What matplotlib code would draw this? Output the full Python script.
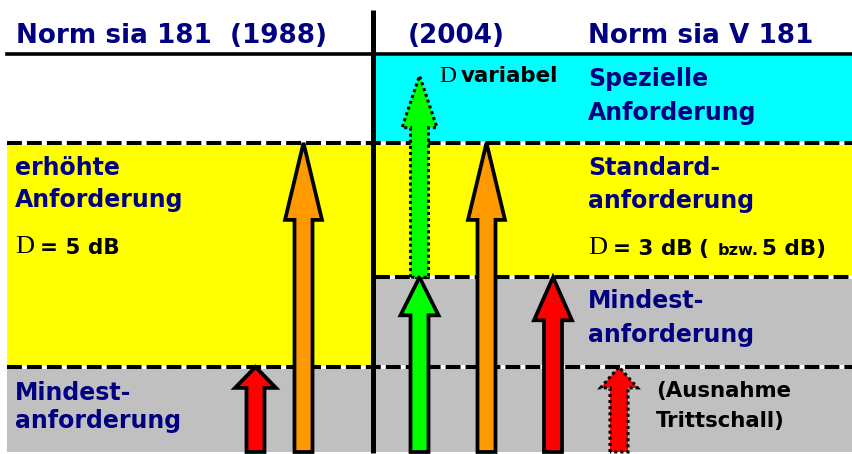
import matplotlib
matplotlib.use("Agg")
import matplotlib.pyplot as plt
from matplotlib.patches import Polygon

# ─── data: requirement levels in dB above the lowest level ───────────────────
LEVEL_BASE = 0.0
LEVEL_MIN_1988 = 1.9          # Mindestanforderung SIA 181 (1988)
LEVEL_MIN_2004 = 3.9          # Mindestanforderung SIA V 181 (2004), +2 dB
LEVEL_RAISED = 6.9            # erhöhte (+5 dB) / Standard (+3 dB)
LEVEL_TOP = 8.85
LEVEL_VARIABLE = 8.4          # spezielle Anforderung, variabel

# bands per norm: (lower, upper)
bands_1988 = [(LEVEL_BASE, LEVEL_MIN_1988), (LEVEL_MIN_1988, LEVEL_RAISED),
              (LEVEL_RAISED, LEVEL_TOP)]
bands_2004 = [(LEVEL_BASE, LEVEL_MIN_2004), (LEVEL_MIN_2004, LEVEL_RAISED),
              (LEVEL_RAISED, LEVEL_TOP)]

# arrows: start level, end level
arrow_from = [LEVEL_BASE, LEVEL_BASE, LEVEL_BASE, LEVEL_MIN_2004,
              LEVEL_BASE, LEVEL_BASE, LEVEL_BASE]
arrow_to = [LEVEL_MIN_1988, LEVEL_RAISED, LEVEL_MIN_2004, LEVEL_VARIABLE,
            LEVEL_RAISED, LEVEL_MIN_2004, LEVEL_MIN_1988]
arrow_dotted = [False, False, False, True, False, False, True]

# ─── layout / style ──────────────────────────────────────────────────────────
PX_PER_DB = 44.8
BASE_PX = 452
W, H = 852, 454

YELLOW, CYAN, GRAY = "#ffff00", "#00ffff", "#c0c0c0"
ORANGE, RED, GREEN = "#ff9900", "#ff0000", "#00ff00"
NAVY = "#000080"

band_cols_1988 = [GRAY, YELLOW, "white"]
band_cols_2004 = [GRAY, YELLOW, CYAN]

arrow_x = [255.5, 303.5, 419.5, 419.5, 486.5, 553, 619]
arrow_cols = [RED, ORANGE, GREEN, GREEN, ORANGE, RED, RED]
head_len_px = [21, 77, 38, 52, 77, 43, 21]
head_w_px = [41, 37, 38, 35, 37, 38, 37]
shaft_w_px = 18

SANS = "DejaVu Sans"
SERIF = "Liberation Serif"


def px2lvl(p):
    return (BASE_PX - p) / PX_PER_DB


def up_arrow(ax, x, y0, y1, head_len, head_w, color, dotted):
    hl = head_len / PX_PER_DB
    hw, sw = head_w / 2, shaft_w_px / 2
    verts = [(x - sw, y0), (x - sw, y1 - hl), (x - hw, y1 - hl), (x, y1),
             (x + hw, y1 - hl), (x + sw, y1 - hl), (x + sw, y0)]
    ls = (0, (1, 1)) if dotted else "-"
    ax.add_patch(Polygon(verts, closed=True, facecolor=color, edgecolor="k",
                         lw=2.2 if dotted else 2.7, ls=ls, joinstyle="miter",
                         zorder=5))


def dashed(ax, x0, x1, lvl):
    ax.plot([x0, x1], [lvl, lvl], color="white", lw=2.9,
            solid_capstyle="butt", zorder=3)
    ax.plot([x0, x1], [lvl, lvl], color="k", lw=2.9,
            ls=(0, (3.7, 1.25)), dash_capstyle="butt", zorder=3)


def label(ax, x, y_px, s, color=NAVY, size=17, family=SANS, weight="bold"):
    ax.text(x, px2lvl(y_px), s, color=color, fontsize=size, family=family,
            fontweight=weight, va="baseline", ha="left", zorder=6)


fig = plt.figure(figsize=(W / 100, H / 100), dpi=100)
ax = fig.add_axes([0, 0, 1, 1])
ax.set_xlim(0, W)
ax.set_ylim(px2lvl(H), px2lvl(0))
ax.axis("off")

# background bands
for (lo, hi), c in zip(bands_1988, band_cols_1988):
    ax.fill_between([7, 371], lo, hi, color=c, lw=0, zorder=1)
for (lo, hi), c in zip(bands_2004, band_cols_2004):
    ax.fill_between([375, W], lo, hi, color=c, lw=0, zorder=1)

# boundaries
dashed(ax, 7, W, LEVEL_RAISED)
dashed(ax, 7, W, LEVEL_MIN_1988)
dashed(ax, 375, W, LEVEL_MIN_2004)
ax.plot([7, W], [px2lvl(54), px2lvl(54)], color="k", lw=2.6, zorder=4)
ax.plot([373, 373], [px2lvl(453), px2lvl(10)], color="k", lw=3.6, zorder=4,
        solid_capstyle="butt")

# arrows
for x, a, b, c, hl, hw, d in zip(arrow_x, arrow_from, arrow_to, arrow_cols,
                                 head_len_px, head_w_px, arrow_dotted):
    up_arrow(ax, x, a, b, hl, hw, c, d)

# headers
label(ax, 16, 43, "Norm sia 181  (1988)", size=18.9)
label(ax, 408, 43, "(2004)", size=18.9)
label(ax, 588, 43, "Norm sia V 181", size=18.9)

# 1988 side
label(ax, 15, 175, "erhöhte")
label(ax, 15, 207, "Anforderung")
label(ax, 15, 253, "D", color="k", family=SERIF, weight="normal", size=19)
label(ax, 40, 254, "= 5 dB", color="k", size=15.5)
label(ax, 15, 400, "Mindest-")
label(ax, 15, 428, "anforderung")

# 2004 side
label(ax, 439, 82, "D", color="k", family=SERIF, weight="normal", size=17)
label(ax, 461, 82, "variabel", color="k", size=15.4)
label(ax, 588, 86, "Spezielle")
label(ax, 588, 120, "Anforderung")
label(ax, 588, 175, "Standard-")
label(ax, 588, 208, "anforderung")
label(ax, 588, 254, "D", color="k", family=SERIF, weight="normal", size=19)
label(ax, 613, 255, "= 3 dB", color="k", size=15.5)
label(ax, 698, 255, "(", color="k", size=15.5)
label(ax, 718, 255, "bzw.", color="k", size=11.6)
label(ax, 762, 255, "5 dB)", color="k", size=15.5)
label(ax, 588, 308, "Mindest-")
label(ax, 588, 342, "anforderung")
label(ax, 656, 397, "(Ausnahme", color="k", size=15.3)
label(ax, 656, 427, "Trittschall)", color="k", size=15.3)

fig.savefig("out.png", dpi=100)
